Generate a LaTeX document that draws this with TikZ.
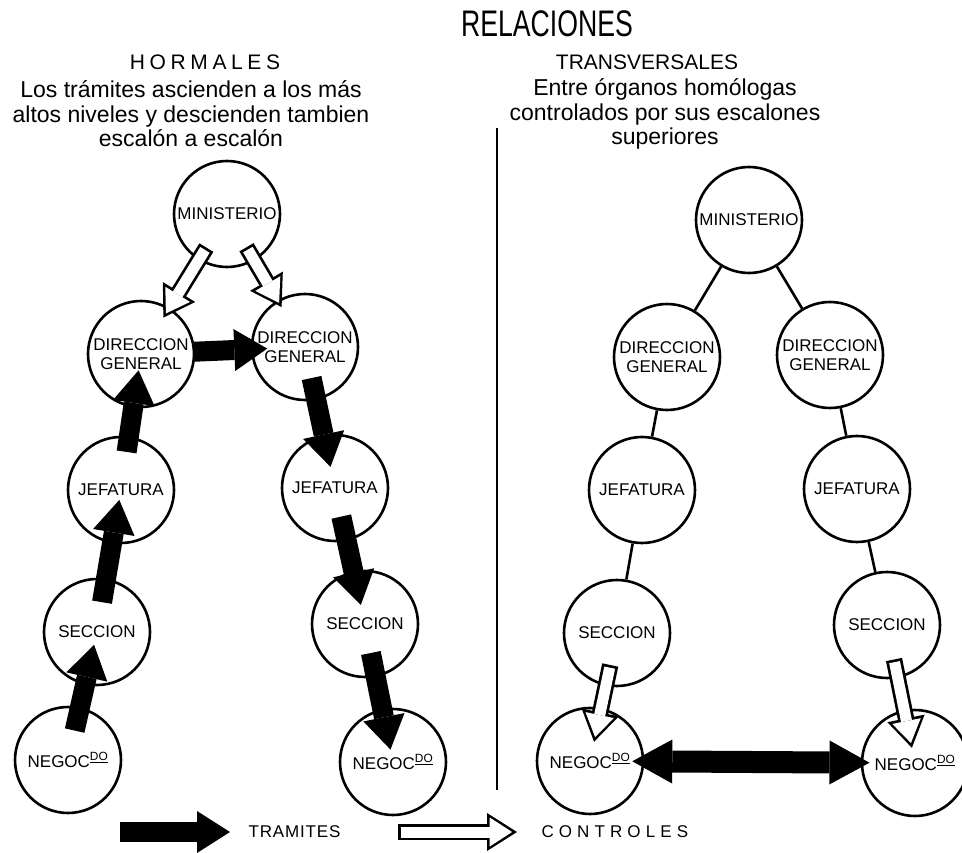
\documentclass[tikz,border=0pt]{standalone}
\usepackage{fontspec}
\setmainfont{Liberation Sans}
\newfontfamily\narrowfont{Liberation Sans}[FakeStretch=0.72]
\usetikzlibrary{arrows.meta,calc}
\tikzset{
  org/.style  ={circle,draw,line width=2.6pt,minimum size=106pt,inner sep=0pt,
                align=center,font=\fontsize{17}{19}\selectfont},
  link/.style ={line width=2.6pt},
  tram/.style ={draw,line width=20pt,
                -{Triangle[width=42pt,length=33pt,line width=0pt 0 0]}},
  ctrl/.style ={draw=white,line width=11pt,shorten <=2.7pt,shorten >=4.9pt,
                -{Triangle[width=29pt,length=22.4pt,line width=0pt 0 0]},
                preaction={draw=black,line width=16.4pt,shorten <=0pt,shorten >=0pt,
                  -{Triangle[width=38pt,length=30pt,line width=0pt 0 0]}}},
  both/.style ={draw,line width=22pt,
                {Triangle[width=44pt,length=40pt,line width=0pt 0 0]}-{Triangle[width=44pt,length=40pt,line width=0pt 0 0]}},
  head/.style ={font=\fontsize{21}{23}\selectfont},
  note/.style ={align=center,font=\fontsize{23}{24.5}\selectfont},
  key/.style  ={anchor=west,font=\fontsize{17}{19}\selectfont},
}

\begin{document}
\begin{tikzpicture}[x=1pt,y=-1pt]
\useasboundingbox (0,0) rectangle (962,853);

% headings
\node[font=\narrowfont\fontsize{37}{39}\selectfont] (rel) at (547,24) {RELACIONES};
\node[head] (norm) at (205,62) {\addfontfeature{LetterSpace=22}HORMALES};
\node[head] (trans) at (647,62) {TRANSVERSALES};
\node[note] (normtxt) at (191,114) {Los trámites ascienden a los más\\
   altos niveles y descienden tambien\\ escalón a escalón};
\node[note] (transtxt) at (665,114) {Entre órganos homólogas\\
   controlados por sus escalones\\ superiores};
\draw[link] (497,128) -- (497,790);

% left column: normales
\node[org] (min)  at (227,214) {MINISTERIO};
\node[org] (dgl)  at (141,354) {DIRECCION\\GENERAL};
\node[org] (dgr)  at (305,347) {DIRECCION\\GENERAL};
\node[org] (jefl) at (121,490) {JEFATURA};
\node[org] (jefr) at (335,488) {JEFATURA};
\node[org] (secl) at (97,632)  {SECCION};
\node[org] (secr) at (365,624) {SECCION};
\node[org] (negl) at (68,760)  {NEGOC\textsuperscript{\underline{DO}}};
\node[org] (negr) at (393,762) {NEGOC\textsuperscript{\underline{DO}}};

\draw[ctrl] ($(min)!.24!(dgl)$) -- ($(min)!.74!(dgl)$);
\draw[ctrl] ($(min)!.25!(dgr)$) -- ($(min)!.70!(dgr)$);

\draw[tram] ($(negl)!.23!(secl)$) -- ($(negl)!.90!(secl)$);
\draw[tram] ($(secl)!.21!(jefl)$) -- ($(secl)!.93!(jefl)$);
\draw[tram] ($(jefl)!.28!(dgl)$)  -- ($(jefl)!.88!(dgl)$);
\draw[tram] ($(dgl)!.32!(dgr)$)   -- ($(dgl)!.77!(dgr)$);
\draw[tram] ($(dgr)!.22!(jefr)$)  -- ($(dgr)!.85!(jefr)$);
\draw[tram] ($(jefr)!.21!(secr)$) -- ($(jefr)!.86!(secr)$);
\draw[tram] ($(secr)!.21!(negr)$) -- ($(secr)!.91!(negr)$);

% right column: transversales
\node[org] (tmin)  at (749,220) {MINISTERIO};
\node[org] (tdgl)  at (667,357) {DIRECCION\\GENERAL};
\node[org] (tdgr)  at (830,355) {DIRECCION\\GENERAL};
\node[org] (tjefl) at (642,490) {JEFATURA};
\node[org] (tjefr) at (857,489) {JEFATURA};
\node[org] (tsecl) at (617,633) {SECCION};
\node[org] (tsecr) at (887,625) {SECCION};
\node[org] (tnegl) at (590,761) {NEGOC\textsuperscript{\underline{DO}}};
\node[org] (tnegr) at (915,763) {NEGOC\textsuperscript{\underline{DO}}};

\draw[link] (tmin) -- (tdgl);
\draw[link] (tmin) -- (tdgr);
\draw[link] (tdgl) -- (tjefl);
\draw[link] (tdgr) -- (tjefr);
\draw[link] (tjefl) -- (tsecl);
\draw[link] (tjefr) -- (tsecr);

\draw[ctrl] ($(tsecl)!.25!(tnegl)$) -- ($(tsecl)!.85!(tnegl)$);
\draw[ctrl] ($(tsecr)!.25!(tnegr)$) -- ($(tsecr)!.89!(tnegr)$);
\draw[both] ($(tnegl)!.13!(tnegr)$) -- ($(tnegl)!.86!(tnegr)$);

% legend
\coordinate (k1a) at (120,832);
\coordinate (k1b) at (230,832);
\coordinate (k2a) at (398,832);
\coordinate (k2b) at (517,832);
\draw[tram] (k1a) -- (k1b);
\node[key] (ktram) at (245,832) {\addfontfeature{LetterSpace=5}TRAMITES};
\draw[ctrl] (k2a) -- (k2b);
\node[key] (kctrl) at (538,832) {\addfontfeature{LetterSpace=30}CONTROLES};
\end{tikzpicture}
\end{document}
